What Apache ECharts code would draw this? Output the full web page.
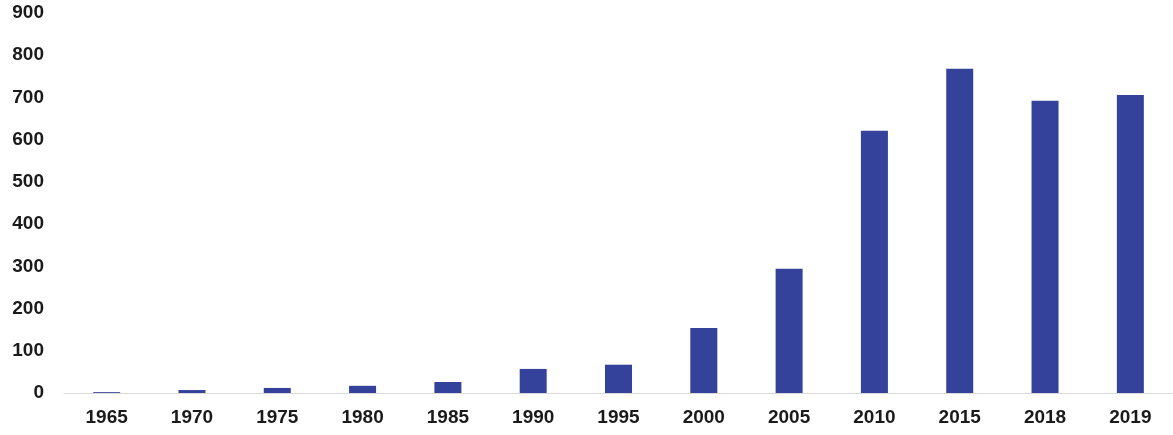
<!DOCTYPE html>
<html>
<head>
<meta charset="utf-8">
<script src="https://cdn.jsdelivr.net/npm/echarts@6/dist/echarts.min.js"></script>
<style>
html,body{margin:0;padding:0;background:#fff;}
#chart{width:1173px;height:435px;}
</style>
</head>
<body>
<div id="chart"></div>
<script>
const categories = ['1965','1970','1975','1980','1985','1990','1995','2000','2005','2010','2015','2018','2019'];
const values = [2, 7, 12, 17, 26, 57, 67, 154, 294, 621, 768, 692, 706];
const yTicks = {min: 0, max: 900, interval: 100};

const chart = echarts.init(document.getElementById('chart'));
chart.setOption({
  animation: false,
  backgroundColor: '#ffffff',
  grid: {left: 64, right: -3, top: 13, bottom: 42, containLabel: false},
  xAxis: {
    type: 'category',
    data: categories,
    axisLine: {show: true, lineStyle: {color: '#d9d9d9', width: 1}},
    axisTick: {show: false},
    axisLabel: {color: '#1a1a1a', fontWeight: 'bold', fontSize: 19, fontFamily: 'Liberation Sans, Arial, sans-serif', margin: 15}
  },
  yAxis: {
    type: 'value',
    min: yTicks.min, max: yTicks.max, interval: yTicks.interval,
    splitLine: {show: false},
    axisLine: {show: false},
    axisTick: {show: false},
    axisLabel: {color: '#1a1a1a', fontWeight: 'bold', fontSize: 19, fontFamily: 'Liberation Sans, Arial, sans-serif', margin: 20}
  },
  series: [{
    type: 'bar',
    data: values,
    barWidth: 27,
    itemStyle: {color: '#34429b'}
  }]
});
</script>
</body>
</html>
